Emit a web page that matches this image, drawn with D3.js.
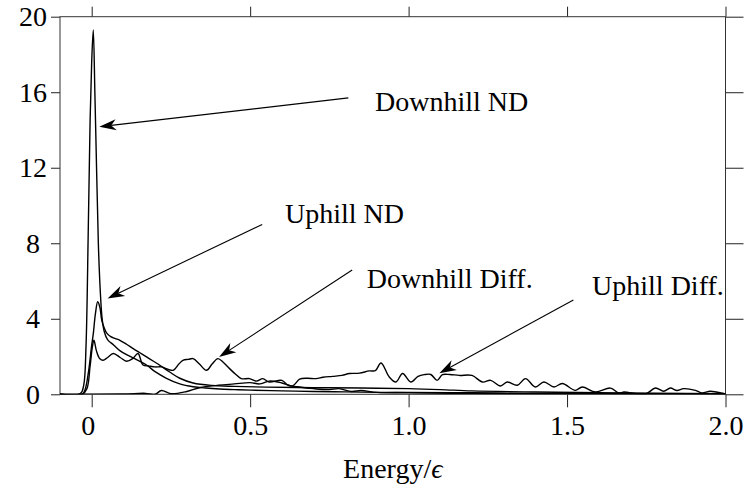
<!DOCTYPE html>
<html><head><meta charset="utf-8">
<script src="https://cdn.jsdelivr.net/npm/d3@7/dist/d3.min.js"></script>
</head>
<body style="margin:0">
<script>
// ---- data ----
const xTicks = [0, 0.5, 1.0, 1.5, 2.0];
const xTickLabels = ["0", "0.5", "1.0", "1.5", "2.0"];
const yTicks = [0, 4, 8, 12, 16, 20];
const yTickLabels = ["0", "4", "8", "12", "16", "20"];
const xLabelMain = "Energy/";
const xLabelSym = "\u03F5";

const downhillNDx = [-0.1,-0.035,-0.025,-0.018,-0.011,-0.005,0.0,0.005,0.01,0.016,0.021,0.027,0.033,0.04,0.05,0.07,0.09,0.11,0.14,0.173,0.2,0.236,0.278,0.32,0.36,0.404,0.45,0.5,0.6,0.7,0.8,0.9,1.0,1.2,1.4,1.6,1.8,2.0];
const downhillNDy = [0,0.05,0.5,2.5,8.5,14.5,17.6,19.3,16.0,11.5,8.0,5.5,4.0,3.3,2.9,2.6,2.3,2.1,1.85,1.55,1.2,0.85,0.55,0.4,0.33,0.28,0.25,0.22,0.18,0.15,0.13,0.1,0.08,0.05,0.03,0.02,0.01,0.0];

const uphillNDx = [-0.1,-0.03,-0.02,-0.01,0.0,0.005,0.012,0.019,0.026,0.032,0.04,0.047,0.06,0.075,0.089,0.11,0.131,0.152,0.173,0.195,0.215,0.246,0.278,0.32,0.38,0.45,0.55,0.7,0.85,1.0,1.1,1.2,1.4,1.6,1.8,2.0];
const uphillNDy = [0,0,0.3,1.2,2.6,3.2,4.3,4.9,4.6,3.9,3.5,3.25,3.05,2.95,2.86,2.65,2.42,2.2,1.98,1.75,1.54,1.18,0.85,0.6,0.47,0.42,0.38,0.35,0.33,0.3,0.25,0.18,0.12,0.08,0.05,0.03];

const downhillDiffx = [-0.1,-0.03,-0.015,-0.005,0.002,0.007,0.015,0.025,0.036,0.05,0.068,0.09,0.11,0.13,0.146,0.162,0.18,0.2,0.22,0.257,0.275,0.288,0.305,0.32,0.34,0.362,0.38,0.398,0.415,0.435,0.455,0.472,0.498,0.52,0.54,0.56,0.6,0.62,0.65,0.7,0.75,0.78,0.82,0.85,0.9,1.0,1.2,1.4,1.6,1.8,2.0];
const downhillDiffy = [0,0,0.3,1.5,2.5,2.86,2.3,1.9,1.8,1.95,2.16,1.95,1.75,1.9,2.16,1.55,1.5,1.45,1.45,1.27,1.6,1.8,1.85,1.89,1.6,1.27,1.6,1.89,1.7,1.36,1.05,0.83,0.83,0.7,0.83,0.65,0.74,0.48,0.4,0.3,0.25,0.3,0.15,0.2,0.1,0.1,0.08,0.05,0.05,0.04,0.03];

const uphillDiffx = [-0.1,0.1,0.17,0.2,0.22,0.25,0.3,0.34,0.4,0.45,0.5,0.53,0.56,0.6,0.634,0.656,0.68,0.708,0.73,0.76,0.79,0.813,0.845,0.876,0.895,0.913,0.939,0.96,0.981,1.007,1.03,1.049,1.07,1.09,1.107,1.13,1.16,1.2,1.233,1.259,1.29,1.311,1.343,1.369,1.4,1.427,1.459,1.485,1.526,1.548,1.59,1.637,1.663,1.68,1.72,1.75,1.779,1.805,1.826,1.847,1.868,1.905,1.926,1.952,1.994,2.0];
const uphillDiffy = [0.0,0.02,0.05,0.0,0.2,0.03,0.15,0.35,0.48,0.55,0.62,0.55,0.7,0.6,0.45,0.8,0.85,0.83,0.9,0.95,1.0,1.1,1.12,1.24,1.25,1.66,0.92,0.65,1.1,0.65,0.95,1.04,1.05,0.74,1.04,1.05,1.0,1.0,0.65,0.74,0.44,0.65,0.48,0.83,0.39,0.65,0.39,0.57,0.21,0.39,0.12,0.33,0.07,0.12,0.03,0.03,0.33,0.16,0.33,0.2,0.3,0.21,0.07,0.16,0.04,0.02];

// annotations: label position (data), arrow start (data), arrow tip (data)
const annoText = ["Downhill ND", "Uphill ND", "Downhill Diff.", "Uphill Diff."];
const annoLabelX = [0.894, 0.61, 0.868, 1.579];
const annoLabelY = [15.0, 9.08, 5.65, 5.28];
const annoFromX = [0.81, 0.538, 0.822, 1.52];
const annoFromY = [15.7, 9.0, 6.58, 5.0];
const annoToX = [0.024, 0.05, 0.402, 1.097];
const annoToY = [14.17, 5.08, 1.98, 1.11];

// ---- layout ----
const SERIF = '"Liberation Serif"';
const W = 744, H = 491;
const pL = 60, pR = 725.5, pT = 16.7, pB = 394.3;
const svg = d3.select("body").append("svg").attr("width", W).attr("height", H);
const x = d3.scaleLinear().domain([-0.1, 2.0]).range([pL, pR]);
const y = d3.scaleLinear().domain([0, 20]).range([pB, pT]);

svg.append("defs").append("clipPath").attr("id", "clip")
  .append("rect").attr("x", pL).attr("y", pT - 2).attr("width", pR - pL).attr("height", pB - pT + 2);

// axes
const fs = 28;
const gB = svg.append("g").attr("transform", `translate(0,${pB})`)
  .call(d3.axisBottom(x).tickValues(xTicks).tickFormat((d,i)=>xTickLabels[i]).tickSize(13).tickPadding(8));
const gT = svg.append("g").attr("transform", `translate(0,${pT})`)
  .call(d3.axisTop(x).tickValues(xTicks).tickFormat("").tickSize(10));
const gL = svg.append("g").attr("transform", `translate(${pL},0)`)
  .call(d3.axisLeft(y).tickValues(yTicks).tickFormat((d,i)=>yTickLabels[i]).tickSize(9).tickPadding(12));
const gR = svg.append("g").attr("transform", `translate(${pR},0)`)
  .call(d3.axisRight(y).tickValues(yTicks).tickFormat("").tickSize(18));
[gB,gT,gL,gR].forEach(g=>{
  g.attr("font-family", null).attr("font-size", null);
  g.select(".domain").remove();
  g.selectAll(".tick line").attr("stroke","#222").attr("stroke-width",1);
  g.selectAll("text").style("font-family", SERIF).style("font-size", fs+"px").attr("fill","#000");
});
gL.selectAll("text").attr("x", -27).attr("text-anchor", "middle");
gB.selectAll("text").filter(d => d === 0).attr("dx", -4);

// frame
svg.append("rect").attr("x", pL).attr("y", pT).attr("width", pR-pL).attr("height", pB-pT)
  .attr("fill","none").attr("stroke","#333").attr("stroke-width",1);

// curves
const series = [
  [downhillNDx, downhillNDy],
  [uphillNDx, uphillNDy],
  [downhillDiffx, downhillDiffy],
  [uphillDiffx, uphillDiffy]
];
const lineGen = d3.line().x(d=>x(d[0])).y(d=>y(d[1])).curve(d3.curveCatmullRom.alpha(0.5));
const gc = svg.append("g").attr("clip-path","url(#clip)");
series.forEach(([xs, ys]) => {
  gc.append("path").datum(xs.map((v,i)=>[v, ys[i]]))
    .attr("d", lineGen).attr("fill","none").attr("stroke","#000").attr("stroke-width",1.4);
});

// annotations
const annoG = svg.append("g");
annoText.forEach((t,i)=>{
  const x0 = x(annoFromX[i]), y0 = y(annoFromY[i]);
  const x1 = x(annoToX[i]), y1 = y(annoToY[i]);
  const ang = Math.atan2(y1-y0, x1-x0);
  const L = 17, Wd = 5.5, notch = 12;
  annoG.append("line").attr("x1",x0).attr("y1",y0)
    .attr("x2", x1 - Math.cos(ang)*notch).attr("y2", y1 - Math.sin(ang)*notch)
    .attr("stroke","#000").attr("stroke-width",1.1);
  const c = Math.cos(ang), s = Math.sin(ang);
  const P = (a,b)=>[x1 + a*c - b*s, y1 + a*s + b*c];
  const pts = [P(0,0), P(-L, Wd), P(-notch, 0), P(-L, -Wd)];
  annoG.append("path").attr("d", "M"+pts.map(p=>p.join(",")).join("L")+"Z").attr("fill","#000");
  annoG.append("text").attr("x", x(annoLabelX[i])).attr("y", y(annoLabelY[i]))
    .style("font-family", SERIF).style("font-size", fs+"px").attr("fill","#000").text(t);
});

// x-axis label
const xl = svg.append("g").append("text").attr("x", x(0.95)).attr("y", 478).attr("text-anchor","middle")
  .style("font-family", SERIF).style("font-size", fs+"px").attr("fill","#000");
xl.append("tspan").text(xLabelMain);
xl.append("tspan").style("font-style","italic").text(xLabelSym);
</script>
</body></html>
